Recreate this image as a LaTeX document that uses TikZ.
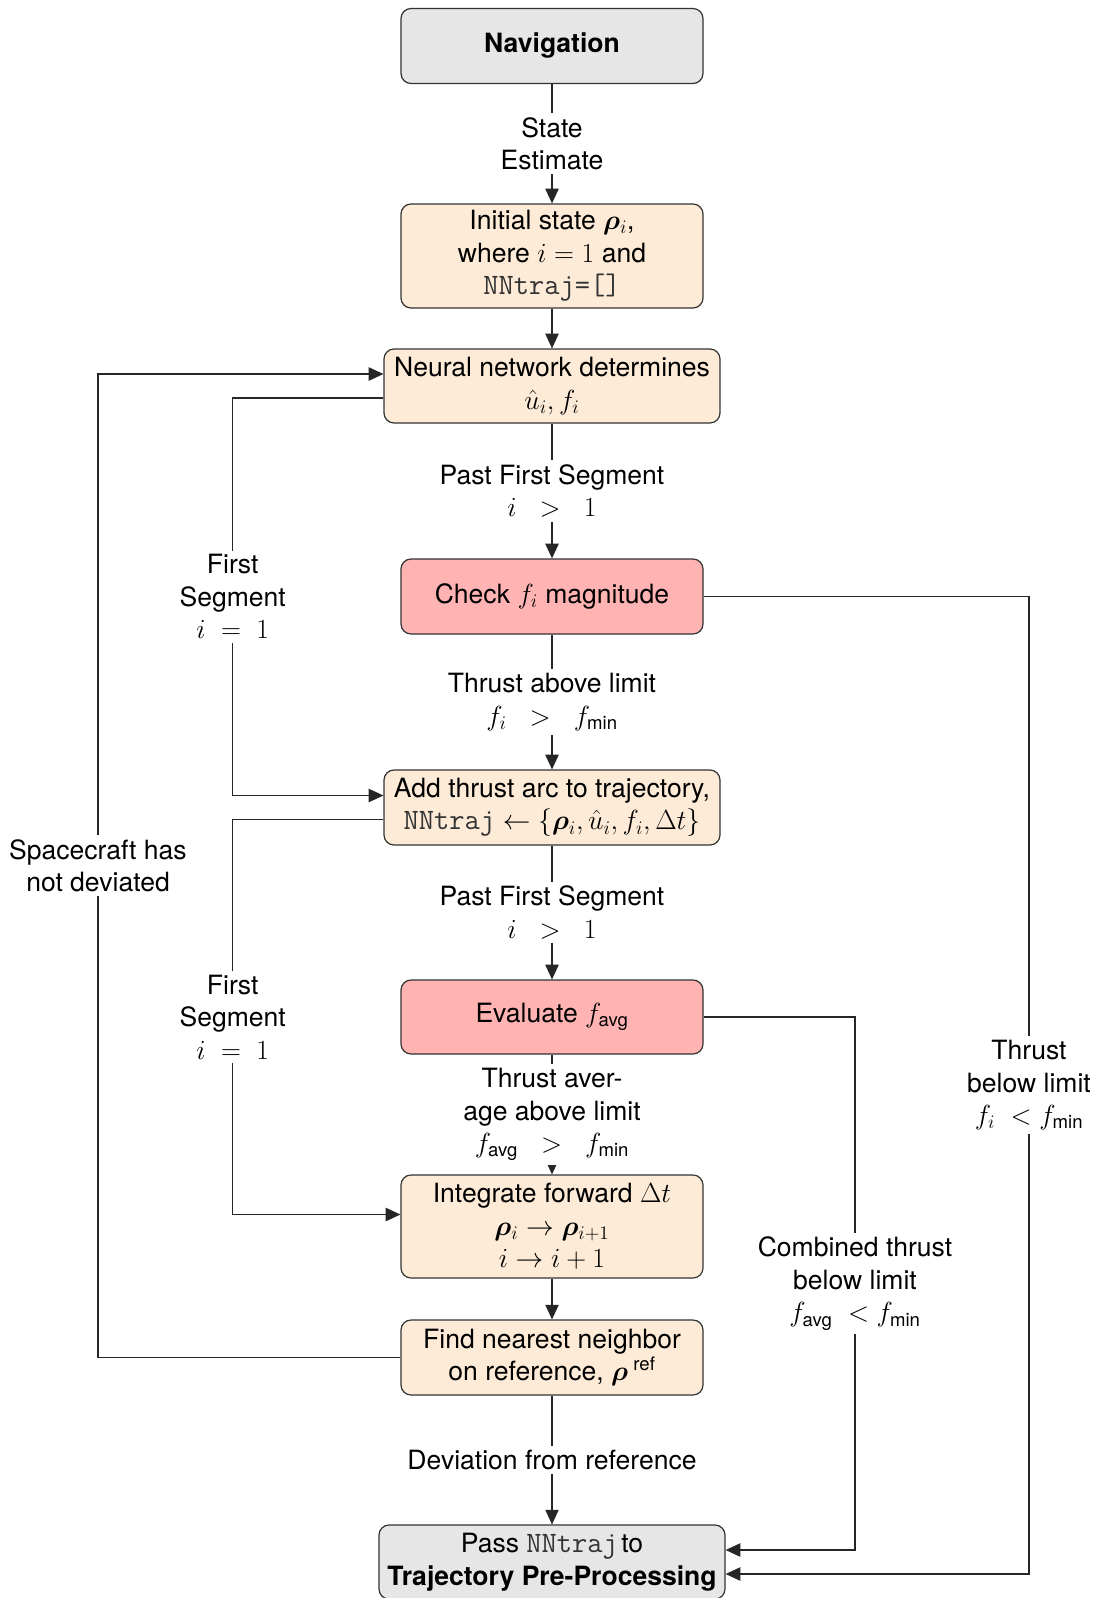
\documentclass[tikz,border=0pt]{standalone}
\usepackage{amsmath}
\usepackage{bm}
\usepackage[no-math]{fontspec}
\setmainfont{TeX Gyre Heros}
\usetikzlibrary{arrows.meta,calc}
\definecolor{peach}{RGB}{253,235,215}
\definecolor{boxred}{RGB}{255,179,179}
\definecolor{boxgray}{RGB}{230,230,230}
\newcommand\nnmono[1]{{\fontsize{22.2pt}{24.4pt}\ttfamily\color{black!80}#1}}
\begin{document}
\begin{tikzpicture}[x=0.75pt,y=-0.75pt,
  every node/.style={font=\fontsize{19.9pt}{24.4pt}\selectfont},
  basebox/.style={draw=black!80, line width=0.9pt, rounded corners=7.5pt, align=center, inner sep=2pt},
  graybox/.style={basebox, fill=boxgray},
  pbox/.style={basebox, fill=peach},
  rbox/.style={basebox, fill=boxred},
  arr/.style={draw=black!85, line width=0.9pt, -{Triangle[length=11pt,width=10pt]}},
  lbl/.style={fill=white, align=center, inner sep=3pt}]
\useasboundingbox (0,0) rectangle (1099,1598);

\node[graybox, minimum width=226.5pt, minimum height=56.25pt] (nav) at (552,46) {\textbf{Navigation}};
\node[pbox, minimum width=226.5pt, minimum height=78pt] (init) at (552,256) {Initial state $\bm{\rho}_i$,\\ where $i=1$ and\\ \nnmono{NNtraj=[]}};
\node[pbox, minimum width=252pt, minimum height=55.5pt] (nn) at (552,386) {Neural network determines\\ $\hat{u}_i, f_i$};
\node[rbox, minimum width=226.5pt, minimum height=56.25pt] (check) at (552,596.5) {Check $f_i$ magnitude};
\node[pbox, minimum width=252pt, minimum height=56.25pt] (add) at (552,807.5) {Add thrust arc to trajectory,\\ \nnmono{NNtraj}${}\leftarrow{}\{\bm{\rho}_i,\hat{u}_i,f_i,\Delta t\}$};
\node[rbox, minimum width=226.5pt, minimum height=55.5pt] (eval) at (552,1017) {Evaluate $f_{\text{avg}}$};
\node[pbox, minimum width=226.5pt, minimum height=77.25pt] (integ) at (552,1226.5) {Integrate forward $\Delta t$\\ $\bm{\rho}_i\rightarrow\bm{\rho}_{i+1}$\\ $i\rightarrow i+1$};
\node[pbox, minimum width=226.5pt, minimum height=56.25pt] (find) at (552,1357.5) {Find nearest neighbor\\ on reference, $\bm{\rho}^{\;\text{ref}}$};
\node[graybox, minimum width=259.5pt, minimum height=55.5pt] (pass) at (552,1562) {Pass \nnmono{NNtraj}\kern2.5pt to\\ \textbf{Trajectory Pre-Processing}};

\coordinate (sL) at (98,0);
\coordinate (fL) at (232.7,0);
\coordinate (tR) at (1029,0);
\coordinate (cR) at (855,0);
\coordinate (nnIn) at ([yshift=9pt]nn.west);
\coordinate (nnOut) at ([yshift=-9pt]nn.west);
\coordinate (addIn) at ([yshift=9pt]add.west);
\coordinate (addOut) at ([yshift=-9pt]add.west);
\coordinate (integIn) at ([yshift=9pt]integ.west);
\coordinate (passA) at ([yshift=9pt]pass.east);
\coordinate (passB) at ([yshift=-9pt]pass.east);

\draw[arr] (nav) -- node[lbl]{State\\Estimate} (init);
\draw[arr] (init) -- (nn);
\draw[arr] (nn) -- node[lbl]{Past First Segment\\$i\;\;>\;\;1$} (check);
\draw[arr] (check) -- node[lbl]{Thrust above limit\\$f_i\;\;>\;\;f_{\text{min}}$} (add);
\draw[arr] (add) -- node[lbl]{Past First Segment\\$i\;\;>\;\;1$} (eval);
\draw[arr] (eval) -- node[lbl]{Thrust aver-\\age above limit\\$f_{\text{avg}}\;\;>\;\;f_{\text{min}}$} (integ);
\draw[arr] (integ) -- (find);
\draw[arr] (find) -- node[lbl]{Deviation from reference} (pass);

\draw[arr] (find.west) -- (find.west -| sL) -- node[lbl]{Spacecraft has\\not deviated} (sL |- nnIn) -- (nnIn);
\draw[arr] (nnOut) -- (nnOut -| fL) -- node[lbl]{First\\Segment\\$i\;=\;1$} (fL |- addIn) -- (addIn);
\draw[arr] (addOut) -- (addOut -| fL) -- node[lbl]{First\\Segment\\$i\;=\;1$} (fL |- integIn) -- (integIn);
\draw[arr] (check.east) -- (check.east -| tR) -- node[lbl]{Thrust\\below limit\\$f_i\;<f_{\text{min}}$} (tR |- passB) -- (passB);
\draw[arr] (eval.east) -- (eval.east -| cR) -- node[lbl]{Combined thrust\\below limit\\$f_{\text{avg}}\;<f_{\text{min}}$} (cR |- passA) -- (passA);
\end{tikzpicture}
\end{document}
